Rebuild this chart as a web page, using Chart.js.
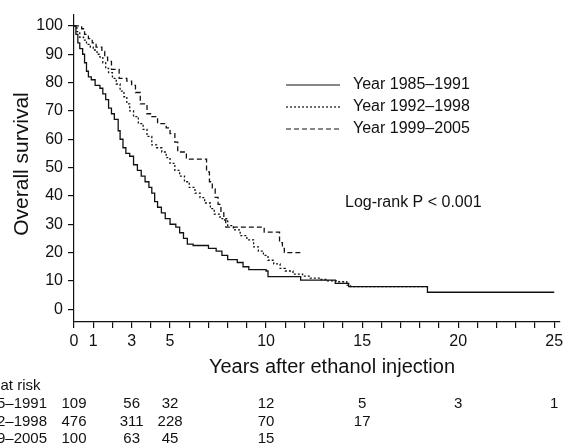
<!DOCTYPE html>
<html lang="en">
<head>
<meta charset="UTF-8">
<title>Overall survival after ethanol injection</title>
<style>
  html, body { margin: 0; padding: 0; background: #ffffff; }
  #wrap { width: 568px; height: 443px; }
</style>
<script src="https://cdn.jsdelivr.net/npm/chart.js"></script>
</head>
<body>
<div id="wrap"><canvas id="survChart" width="568" height="443"></canvas></div>
<script>
// Kaplan-Meier steps: time (years) and survival (%) after each step
var t8591 = [0, 0.1, 0.2, 0.3, 0.45, 0.55, 0.65, 0.75, 0.9, 1.1, 1.35, 1.5, 1.65, 1.8, 1.95, 2.1, 2.3, 2.4, 2.55, 2.7,
             2.9, 3.1, 3.3, 3.5, 3.7, 3.9, 4.05, 4.2, 4.35, 4.55, 4.75, 5.0, 5.3, 5.5, 5.7, 5.9, 6.2, 7.0, 7.4, 7.7,
             8.0, 8.5, 8.8, 9.1, 10.0, 10.1, 11.8, 13.6, 14.3, 18.4, 25];
var s8591 = [100, 97, 94, 92, 90, 87, 84, 82, 81, 79, 78, 76, 74, 71, 69, 67, 63, 60, 57, 55,
             54, 51, 49, 47, 45, 43, 41, 38, 36, 34, 32, 30, 29, 27, 25, 23, 22.5, 21.5, 20.5, 19,
             17.5, 16.5, 15, 14, 13.5, 11.5, 10.3, 9.1, 8, 6, 6];

var t9298 = [0, 0.15, 0.3, 0.5, 0.65, 0.85, 1.0, 1.2, 1.35, 1.5, 1.65, 1.8, 2.0, 2.2, 2.4, 2.6, 2.75, 2.9, 3.1, 3.35,
             3.6, 3.8, 4.05, 4.3, 4.57, 4.8, 5.0, 5.25, 5.5, 5.75, 6.0, 6.3, 6.56, 6.8, 7.1, 7.3, 7.6, 8.0, 8.3, 8.65,
             9.0, 9.35, 9.6, 9.86, 10.1, 10.4, 10.73, 11.0, 11.4, 11.9, 12.3, 12.8, 13.2, 13.7, 14.2, 14.4, 18.4];
var s9298 = [100, 98, 96, 95, 93.5, 92.5, 91.5, 90, 89, 87, 85, 83.5, 81.5, 79.5, 77, 75, 72.5, 70, 68, 65.5,
             63.5, 61, 58, 57, 55.5, 53.5, 51.5, 49, 47, 45, 43, 41, 39.4, 37.5, 35.5, 33.6, 32, 29.5, 28, 26,
             24.5, 22, 20.5, 19, 17.3, 16, 14.4, 13.5, 12.4, 11.7, 11, 10.5, 10, 9.7, 8.5, 8, 8];

var t9905 = [0, 0.4, 0.55, 0.75, 0.95, 1.15, 1.45, 1.6, 1.75, 1.95, 2.35, 2.75, 3.0, 3.2, 3.45, 3.8, 4.05, 4.35, 4.8, 5.0,
             5.25, 5.4, 5.85, 6.9, 7.05, 7.2, 7.35, 7.5, 7.65, 7.8, 7.9, 9.9, 10.7, 10.85, 10.95, 11.8];
var s9905 = [100, 99, 97, 95.5, 94, 92.5, 91, 89, 87.5, 84.7, 81.5, 80.5, 79, 76.5, 72.5, 69, 68, 65.5, 64, 62,
             59, 55.5, 53, 48.5, 45, 42.5, 39.5, 37, 34, 31.5, 29, 27.2, 23.5, 21.5, 20, 20];

var seriesLabels = ['Year 1985\u20131991', 'Year 1992\u20131998', 'Year 1999\u20132005'];
var xTickLabels = [0, 1, 3, 5, 10, 15, 20, 25];
var yTickValues = [0, 10, 20, 30, 40, 50, 60, 70, 80, 90, 100];

// numbers at risk, at the year ticks below
var riskYears = [0, 3, 5, 10, 15, 20, 25];
var risk8591 = [109, 56, 32, 12, 5, 3, 1];
var risk9298 = [476, 311, 228, 70, 17, null, null];
var risk9905 = [100, 63, 45, 15, null, null, null];

function toPoints(ts, ss) {
    return ts.map(function (t, i) { return { x: t, y: ss[i] }; });
}

var FONT = 'Arial, "Liberation Sans", sans-serif';
var dashes = [[], [2, 2], [5, 3]];

// extra drawing: axis titles, legend, log-rank note, at-risk table
var extras = {
    id: 'extras',
    afterDraw: function (chart) {
        var ctx = chart.ctx;
        var xs = chart.scales.x;
        ctx.save();
        ctx.fillStyle = '#111';
        ctx.textBaseline = 'middle';

        // y title
        ctx.save();
        ctx.translate(22, 164);
        ctx.rotate(-Math.PI / 2);
        ctx.textAlign = 'center';
        ctx.font = '21px ' + FONT;
        ctx.fillText('Overall survival', 0, 0);
        ctx.restore();

        // x title
        ctx.textAlign = 'center';
        ctx.font = '20px ' + FONT;
        ctx.fillText('Years after ethanol injection', 332, 367);

        // legend
        ctx.font = '16px ' + FONT;
        ctx.textAlign = 'left';
        chart.data.datasets.forEach(function (ds, i) {
            var y = 85 + i * 22;
            ctx.save();
            ctx.strokeStyle = '#111';
            ctx.lineWidth = 1.2;
            ctx.setLineDash(ds.borderDash);
            ctx.beginPath();
            ctx.moveTo(286, y);
            ctx.lineTo(340, y);
            ctx.stroke();
            ctx.restore();
            ctx.fillText(ds.label, 353, y);
        });

        ctx.fillText('Log-rank P < 0.001', 345, 203);

        // at risk table
        ctx.font = '15px ' + FONT;
        ctx.fillText('No. at risk', -27, 386);
        var rows = [risk8591, risk9298, risk9905];
        rows.forEach(function (row, r) {
            var y = 404 + r * 17.5;
            ctx.textAlign = 'right';
            ctx.fillText(seriesLabels[r].replace('Year ', ''), 47, y);
            ctx.textAlign = 'center';
            row.forEach(function (n, k) {
                if (n === null) return;
                ctx.fillText(String(n), xs.getPixelForValue(riskYears[k]), y);
            });
        });
        ctx.restore();
    }
};

var ctx = document.getElementById('survChart').getContext('2d');
var survChart = new Chart(ctx, {
    type: 'line',
    data: {
        datasets: [
            { label: seriesLabels[0], data: toPoints(t8591, s8591) },
            { label: seriesLabels[1], data: toPoints(t9298, s9298) },
            { label: seriesLabels[2], data: toPoints(t9905, s9905) }
        ].map(function (ds, i) {
            ds.stepped = true;
            ds.borderColor = '#111';
            ds.borderWidth = 1.3;
            ds.borderDash = dashes[i];
            ds.pointRadius = 0;
            ds.fill = false;
            return ds;
        })
    },
    options: {
        responsive: false,
        animation: false,
        layout: { padding: { top: 13, right: 8, left: 0, bottom: 0 } },
        plugins: { legend: { display: false }, tooltip: { enabled: false } },
        scales: {
            x: {
                type: 'linear',
                min: 0,
                max: 25.3,
                afterFit: function (scale) { scale.height = 121; },
                afterBuildTicks: function (scale) {
                    var ticks = [];
                    for (var i = 0; i <= 25; i++) ticks.push({ value: i });
                    scale.ticks = ticks;
                },
                ticks: {
                    autoSkip: false,
                    maxRotation: 0,
                    color: '#111',
                    padding: 4,
                    font: { family: FONT, size: 16 },
                    callback: function (v) { return xTickLabels.indexOf(v) >= 0 ? String(v) : ''; }
                },
                grid: { drawOnChartArea: false, drawTicks: true, tickLength: 6, color: '#111', lineWidth: 1.2 },
                border: { display: true, color: '#111', width: 1.2 }
            },
            y: {
                min: -4.5,
                max: 104,
                afterFit: function (scale) { scale.width = 74; },
                afterBuildTicks: function (scale) {
                    scale.ticks = yTickValues.map(function (v) { return { value: v }; });
                },
                ticks: {
                    color: '#111',
                    padding: 5,
                    font: { family: FONT, size: 16 }
                },
                grid: { drawOnChartArea: false, drawTicks: true, tickLength: 6, color: '#111', lineWidth: 1.2 },
                border: { display: true, color: '#111', width: 1.2 }
            }
        }
    },
    plugins: [extras]
});
</script>
</body>
</html>
